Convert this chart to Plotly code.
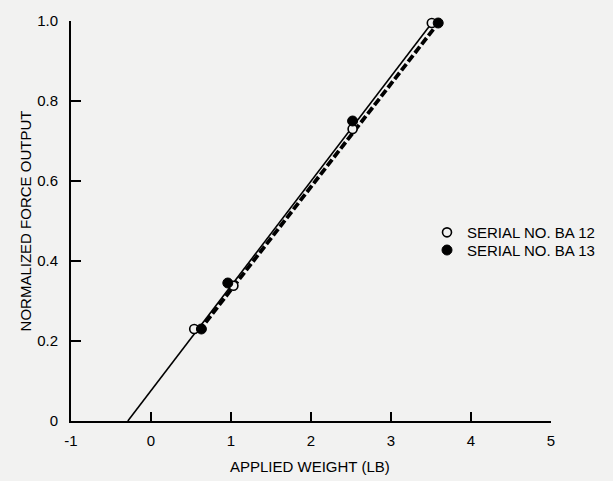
import plotly.graph_objects as go

# Data
ba12_x = [0.54, 1.03, 2.52, 3.51]
ba12_y = [0.23, 0.338, 0.73, 0.995]
ba13_x = [0.63, 0.96, 2.52, 3.59]
ba13_y = [0.23, 0.345, 0.75, 0.995]

fit12_x = [-0.29, 3.51]
fit12_y = [0.0, 0.995]
fit13_x = [0.60, 3.59]
fit13_y = [0.225, 0.995]

x_ticks = [-1, 0, 1, 2, 3, 4, 5]
x_tick_labels = ["-1", "0", "1", "2", "3", "4", "5"]
y_ticks = [0, 0.2, 0.4, 0.6, 0.8, 1.0]
y_tick_labels = ["0", "0.2", "0.4", "0.6", "0.8", "1.0"]

FONT = "Liberation Sans, Arial, Helvetica, sans-serif"
BG = "#f2f2f1"

fig = go.Figure()

fig.add_trace(go.Scatter(x=fit12_x, y=fit12_y, mode="lines",
                         line=dict(color="black", width=1.6),
                         showlegend=False, hoverinfo="skip", cliponaxis=False))
fig.add_trace(go.Scatter(x=fit13_x, y=fit13_y, mode="lines",
                         line=dict(color="black", width=3.8, dash="8px,3px"),
                         showlegend=False, hoverinfo="skip", cliponaxis=False))

fig.add_trace(go.Scatter(x=ba12_x, y=ba12_y, mode="markers", name="SERIAL NO. BA 12",
                         marker=dict(symbol="circle", size=9, color=BG,
                                     line=dict(color="black", width=1.6)),
                         cliponaxis=False, legend="legend"))
fig.add_trace(go.Scatter(x=ba13_x, y=ba13_y, mode="markers", name="SERIAL NO. BA 13",
                         marker=dict(symbol="circle", size=10, color="black",
                                     line=dict(color="black", width=1)),
                         cliponaxis=False, legend="legend2"))

leg_common = dict(xanchor="left", yanchor="top", bgcolor="rgba(0,0,0,0)",
                  font=dict(size=15, family=FONT, color="black"), itemwidth=30)

fig.update_layout(
    width=613, height=481,
    margin=dict(l=71, r=62, t=13, b=60),
    paper_bgcolor=BG, plot_bgcolor=BG,
    font=dict(family=FONT, size=15, color="black"),
    showlegend=True,
    legend=dict(x=(427 - 71) / 480, y=0.5123, **leg_common),
    legend2=dict(x=(427 - 71) / 480, y=0.4681, **leg_common),
    xaxis=dict(range=[-1, 5], tickvals=x_ticks, ticktext=x_tick_labels,
               ticks="inside", ticklen=9, tickwidth=1.6, tickcolor="black",
               showline=True, linecolor="black", linewidth=1.8,
               showgrid=False, zeroline=False, ticklabelstandoff=5,
               ticklabeloverflow="allow", tickfont=dict(size=15)),
    yaxis=dict(range=[0, 1.0], tickvals=y_ticks, ticktext=y_tick_labels,
               ticks="inside", ticklen=10, tickwidth=1.6, tickcolor="black",
               showline=True, linecolor="black", linewidth=1.8,
               showgrid=False, zeroline=False, ticklabelstandoff=8,
               ticklabeloverflow="allow", tickfont=dict(size=15)),
    annotations=[
        dict(text="APPLIED WEIGHT (LB)", xref="paper", yref="paper",
             x=0.497, y=-0.088, xanchor="center", yanchor="top",
             showarrow=False, font=dict(size=15)),
        dict(text="NORMALIZED FORCE OUTPUT", xref="paper", yref="paper",
             x=-0.095, y=0.5, xanchor="center", yanchor="middle",
             textangle=-90, showarrow=False, font=dict(size=15)),
    ],
)

fig.write_html(
    "out.html",
    config={"displayModeBar": False},
    post_script="document.body.style.margin='0';document.body.style.background='%s';" % BG,
)
